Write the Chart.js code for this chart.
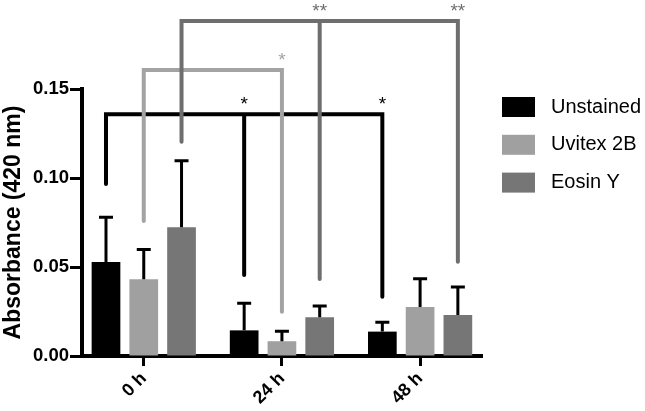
<!DOCTYPE html>
<html>
<head>
<meta charset="utf-8">
<script src="https://cdn.jsdelivr.net/npm/chart.js@4.4.1/dist/chart.umd.min.js"></script>
<style>
html, body { margin: 0; padding: 0; background: #fff; }
#wrap { width: 645px; height: 411px; }
</style>
</head>
<body>
<div id="wrap"><canvas id="myChart"></canvas></div>
<script>
const labels = ['0 h', '24 h', '48 h'];
const seriesNames = ['Unstained', 'Uvitex 2B', 'Eosin Y'];
const seriesColors = ['#000000', '#a0a0a0', '#767676'];

const unstained = [0.0528, 0.0144, 0.0137];
const uvitex = [0.0431, 0.0083, 0.0275];
const eosin = [0.0723, 0.0217, 0.0230];

// upper error (SD) for each bar
const unstainedSd = [0.0251, 0.0152, 0.0052];
const uvitexSd = [0.0168, 0.0056, 0.0159];
const eosinSd = [0.0374, 0.0064, 0.0158];

const yTicks = [0, 0.05, 0.10, 0.15];

// significance brackets (one per series)
const bracketSeries = [0, 1, 2];
const bracketLevels = [0.1358, 0.1607, 0.1882];
const bracketEnds = [[0.0966, 0.0455, 0.0333], [0.0758, 0.0249, null], [0.1204, 0.0433, 0.0530]];
const bracketMarks = [['', '*', '*'], ['', '*', ''], ['', '**', '**']];
const bracketColors = ['#000000', '#a3a3a3', '#6e6e6e'];

Chart.defaults.font.family = "'Liberation Sans', Arial, sans-serif";
Chart.defaults.color = '#000';

const sds = [unstainedSd, uvitexSd, eosinSd];

const errorBars = {
    id: 'errorBars',
    afterDatasetsDraw(chart) {
        const ctx = chart.ctx;
        const y = chart.scales.y;
        ctx.save();
        ctx.strokeStyle = '#000';
        ctx.lineWidth = 3;
        chart.data.datasets.forEach((ds, i) => {
            chart.getDatasetMeta(i).data.forEach((bar, j) => {
                const top = y.getPixelForValue(ds.data[j] + sds[i][j]);
                ctx.beginPath();
                ctx.moveTo(bar.x, bar.y);
                ctx.lineTo(bar.x, top);
                ctx.moveTo(bar.x - 7, top);
                ctx.lineTo(bar.x + 7, top);
                ctx.stroke();
            });
        });
        ctx.restore();
    }
};

const brackets = {
    id: 'brackets',
    afterDraw(chart) {
        const ctx = chart.ctx;
        const y = chart.scales.y;
        ctx.save();
        bracketSeries.forEach((s, k) => {
            const meta = chart.getDatasetMeta(s);
            const level = y.getPixelForValue(bracketLevels[k]);
            const legs = [];
            bracketEnds[k].forEach((v, j) => {
                if (v !== null) legs.push({ x: meta.data[j].x, end: y.getPixelForValue(v), mark: bracketMarks[k][j] });
            });
            ctx.strokeStyle = bracketColors[k];
            ctx.lineWidth = 4;
            ctx.lineJoin = 'miter';
            ctx.lineCap = 'round';
            const first = legs[0], last = legs[legs.length - 1];
            ctx.beginPath();
            ctx.moveTo(first.x, first.end);
            ctx.lineTo(first.x, level);
            ctx.lineTo(last.x, level);
            ctx.lineTo(last.x, last.end);
            legs.slice(1, -1).forEach(l => {
                ctx.moveTo(l.x, level);
                ctx.lineTo(l.x, l.end);
            });
            ctx.stroke();

            ctx.fillStyle = bracketColors[k];
            ctx.font = "19px 'Liberation Sans', Arial, sans-serif";
            ctx.textAlign = 'center';
            ctx.textBaseline = 'alphabetic';
            legs.forEach(l => {
                if (l.mark) ctx.fillText(l.mark, l.x, level - 4);
            });
        });
        ctx.restore();
    }
};

const sideLegend = {
    id: 'sideLegend',
    afterDraw(chart) {
        const ctx = chart.ctx;
        ctx.save();
        ctx.font = "20px 'Liberation Sans', Arial, sans-serif";
        ctx.textBaseline = 'middle';
        ctx.textAlign = 'left';
        chart.data.datasets.forEach((ds, i) => {
            const top = 97 + i * 37.8;
            ctx.fillStyle = ds.backgroundColor;
            ctx.fillRect(502, top, 33, 20);
            ctx.fillStyle = '#000';
            ctx.fillText(ds.label, 551, top + 10);
        });
        ctx.restore();
    }
};

const data = {
    labels: labels,
    datasets: [
        { label: seriesNames[0], data: unstained, backgroundColor: seriesColors[0] },
        { label: seriesNames[1], data: uvitex, backgroundColor: seriesColors[1] },
        { label: seriesNames[2], data: eosin, backgroundColor: seriesColors[2] }
    ]
};

const config = {
    type: 'bar',
    data: data,
    options: {
        responsive: true,
        maintainAspectRatio: false,
        animation: false,
        categoryPercentage: 0.82,
        barPercentage: 0.76,
        layout: { padding: { top: 89, right: 163, left: 0, bottom: 0 } },
        plugins: {
            legend: { display: false },
            tooltip: { enabled: false }
        },
        scales: {
            x: {
                offset: true,
                afterBuildTicks(scale) {
                    // GraphPad-style gap between the y axis and the first group
                    scale._startValue = -0.447;
                    scale._valueRange = 2.895;
                },
                afterFit(scale) { scale.height = 55; },
                grid: { drawOnChartArea: false, offset: false, tickLength: 10, tickWidth: 3, tickColor: '#000' },
                border: { color: '#000', width: 4 },
                ticks: { color: '#000', font: { size: 18, weight: 'bold' }, maxRotation: 45, minRotation: 45, padding: 2 }
            },
            y: {
                min: 0,
                max: 0.15,
                afterFit(scale) { scale.width = 82; },
                afterBuildTicks(scale) { scale.ticks = yTicks.map(v => ({ value: v })); },
                grid: { drawOnChartArea: false, tickLength: 12, tickWidth: 3, tickColor: '#000' },
                border: { color: '#000', width: 4 },
                ticks: { color: '#000', font: { size: 18.5, weight: 'bold' }, padding: 1, callback: v => v.toFixed(2) },
                title: {
                    display: true,
                    text: 'Absorbance (420 nm)',
                    color: '#000',
                    font: { size: 23, weight: 'bold' },
                    padding: { top: 0, bottom: 0 }
                }
            }
        }
    },
    plugins: [errorBars, brackets, sideLegend]
};

const ctx = document.getElementById('myChart');
const myChart = new Chart(ctx, config);
</script>
</body>
</html>
